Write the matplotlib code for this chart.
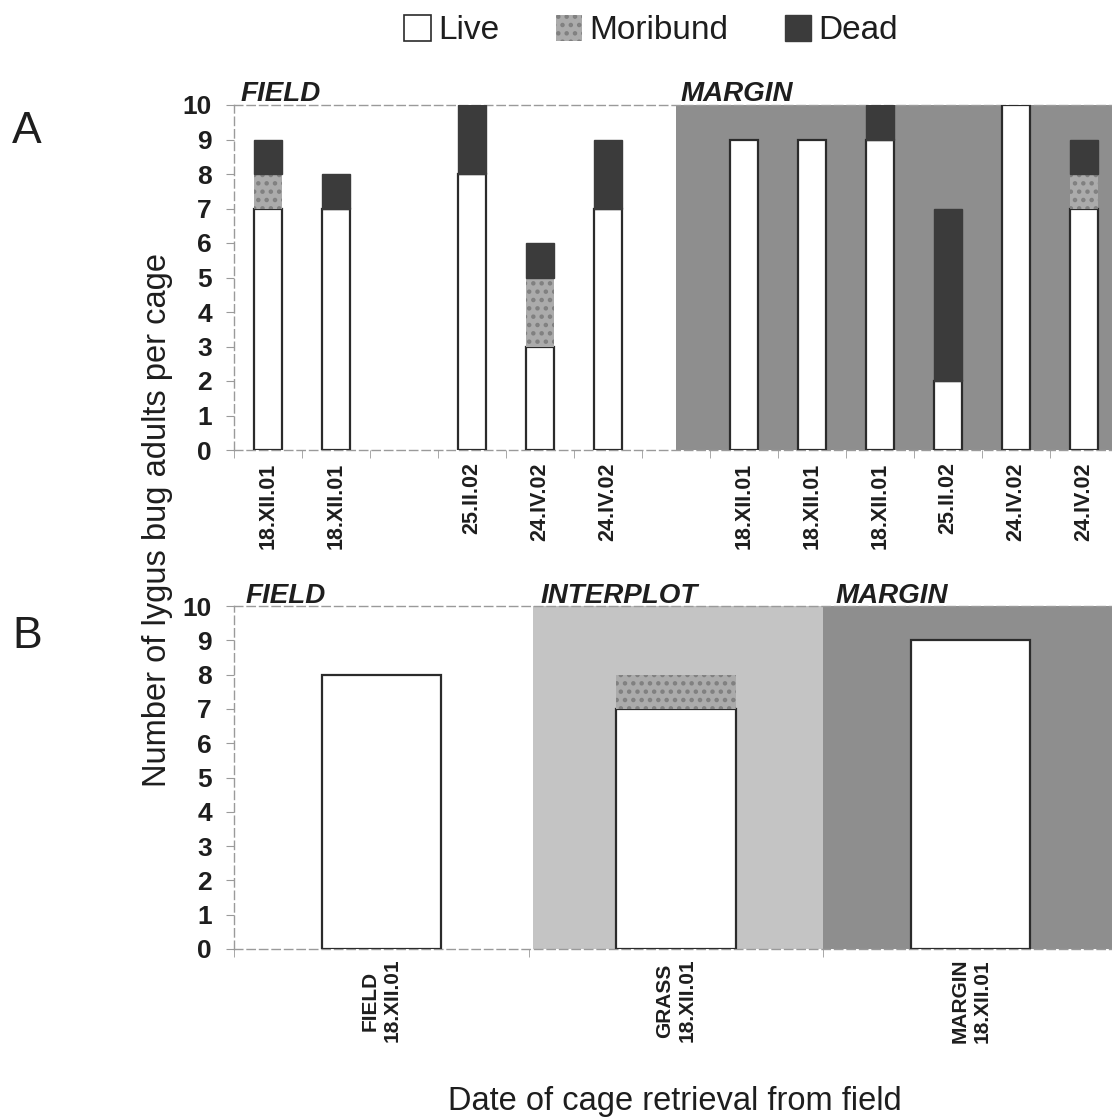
import numpy as np
import matplotlib
matplotlib.use("Agg")
import matplotlib.pyplot as plt
from matplotlib.patches import Patch

plt.rcParams['font.family'] = ['Liberation Sans', 'DejaVu Sans']
plt.rcParams['hatch.linewidth'] = 2.0

# panel A: cages retrieved on each date, field vs margin
a_dates = ['18.XII.01', '18.XII.01', '', '25.II.02', '24.IV.02', '24.IV.02', '',
           '18.XII.01', '18.XII.01', '18.XII.01', '25.II.02', '24.IV.02', '24.IV.02']
a_live = [7, 7, 0, 8, 3, 7, 0, 9, 9, 9, 2, 10, 7]
a_moribund = [1, 0, 0, 0, 2, 0, 0, 0, 0, 0, 0, 0, 1]
a_dead = [1, 1, 0, 2, 1, 2, 0, 0, 0, 1, 5, 0, 1]
a_used = [True, True, False, True, True, True, False,
          True, True, True, True, True, True]

# panel B: habitat comparison on 18.XII.01
b_labels = ['FIELD\n18.XII.01', 'GRASS\n18.XII.01', 'MARGIN\n18.XII.01']
b_live = [8, 7, 9]
b_moribund = [0, 1, 0]
b_dead = [0, 0, 0]

W, H = 1112, 1119
C_LIVE, C_MORI, C_DEAD = 'white', '#ababab', '#3b3b3b'
C_MARGIN, C_INTER = '#8e8e8e', '#c4c4c4'
AX_GREY = '#9a9a9a'


def stack(ax, x, live, mori, dead, width):
    live, mori, dead = (np.asarray(v, float) for v in (live, mori, dead))
    ax.bar(x, live, width, color=C_LIVE, edgecolor='#2b2b2b', lw=1.6, zorder=3)
    m = mori > 0
    ax.bar(x[m], mori[m], width, bottom=live[m], color=C_MORI,
           edgecolor='#808080', lw=0, hatch='..', zorder=3)
    d = dead > 0
    ax.bar(x[d], dead[d], width, bottom=(live + mori)[d], color=C_DEAD,
           edgecolor=C_DEAD, lw=1, zorder=3)


def frame(ax, n):
    ax.set_xlim(-0.5, n - 0.5)
    ax.set_ylim(0, 10)
    ax.set_yticks(range(11))
    ax.set_xticks(np.arange(n) - 0.5, minor=True)
    for s in ('left', 'top', 'bottom'):
        ax.spines[s].set_color(AX_GREY)
        ax.spines[s].set_linestyle((0, (6, 3)))
        ax.spines[s].set_linewidth(1.0)
    ax.spines['right'].set_visible(False)
    ax.tick_params(axis='x', which='major', length=0)
    ax.tick_params(axis='x', which='minor', length=6, color=AX_GREY)
    ax.tick_params(axis='y', length=6, color=AX_GREY, pad=10)
    ax.set_facecolor('none')
    for t in ax.get_yticklabels():
        t.set_fontsize(19)
        t.set_fontweight('bold')
        t.set_color('#1e1e1e')


fig = plt.figure(figsize=(W / 100, H / 100), dpi=100)

# ---- panel A ----
axA = fig.add_axes([234 / W, 1 - 450 / H, 884 / W, 345 / H])
xa = np.arange(len(a_dates))
used = np.array(a_used)
axA.axvspan(6.0, 12.5, color=C_MARGIN, lw=0, zorder=0)
stack(axA, xa[used], np.array(a_live)[used], np.array(a_moribund)[used],
      np.array(a_dead)[used], 0.41)
frame(axA, len(a_dates))
axA.set_xticks(xa)
axA.set_xticklabels(a_dates, rotation=90, fontsize=15.5, fontweight='bold',
                    color='#1e1e1e')
axA.tick_params(axis='x', which='major', pad=9)
axA.text(-0.41, 10.12, 'FIELD', fontsize=20, fontweight='bold', style='italic',
         color='#1e1e1e', va='baseline')
axA.text(6.06, 10.12, 'MARGIN', fontsize=20, fontweight='bold', style='italic',
         color='#1e1e1e', va='baseline')

# ---- panel B ----
axB = fig.add_axes([234 / W, 1 - 949 / H, 884 / W, 343 / H])
xb = np.arange(len(b_labels))
axB.axvspan(0.515, 1.5, color=C_INTER, lw=0, zorder=0)
axB.axvspan(1.5, 2.5, color=C_MARGIN, lw=0, zorder=0)
stack(axB, xb, b_live, b_moribund, b_dead, 0.404)
frame(axB, len(b_labels))
axB.set_xticks(xb)
axB.set_xticklabels(b_labels, rotation=90, fontsize=15, fontweight='bold',
                    color='#1e1e1e', multialignment='center')
axB.tick_params(axis='x', which='major', pad=7)
for x0, name in [(-0.46, 'FIELD'), (0.54, 'INTERPLOT'), (1.54, 'MARGIN')]:
    axB.text(x0, 10.08, name, fontsize=20, fontweight='bold', style='italic',
             color='#1e1e1e', va='baseline')

# ---- shared labels ----
fig.text(158 / W, 1 - 520 / H, 'Number of lygus bug adults per cage',
         rotation=90, fontsize=23.5, ha='center', va='center', color='#1e1e1e')
fig.text(675 / W, 1 - 1110 / H, 'Date of cage retrieval from field',
         fontsize=23.5, ha='center', va='baseline', color='#1e1e1e')
fig.text(12 / W, 1 - 143 / H, 'A', fontsize=32, va='baseline', color='#1e1e1e')
fig.text(12 / W, 1 - 648 / H, 'B', fontsize=32, va='baseline', color='#1e1e1e')

handles = [Patch(facecolor=C_LIVE, edgecolor='#2b2b2b', lw=1.2, label='Live'),
           Patch(facecolor=C_MORI, edgecolor='#808080', lw=0, hatch='..', label='Moribund'),
           Patch(facecolor=C_DEAD, edgecolor=C_DEAD, label='Dead')]
fig.legend(handles=handles, loc='upper center', bbox_to_anchor=(651 / W, 1.0),
           ncol=3, frameon=False, fontsize=24, handlelength=0.8, handleheight=0.8,
           handletextpad=0.2, columnspacing=1.7, borderaxespad=0.05,
           labelcolor='#1e1e1e')

fig.savefig('out.png', dpi=100)
